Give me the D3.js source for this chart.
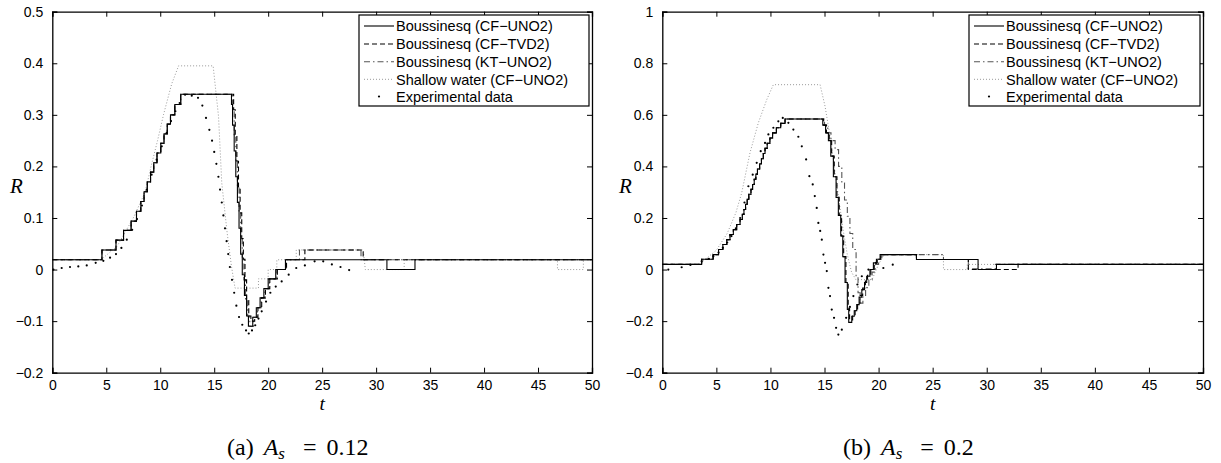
<!DOCTYPE html>
<html><head><meta charset="utf-8">
<script src="https://cdn.jsdelivr.net/npm/d3@7"></script>
<style>body{margin:0;background:#fff} svg{display:block}</style>
</head><body>
<svg id="c" width="1221" height="463"></svg>
<script>
// ---------- DATA ----------
const tTicks = [0,5,10,15,20,25,30,35,40,45,50];
const aRTicks = [-0.2,-0.1,0,0.1,0.2,0.3,0.4,0.5];
const bRTicks = [-0.4,-0.2,0,0.2,0.4,0.6,0.8,1];
const aRLabels = ["−0.2","−0.1","0","0.1","0.2","0.3","0.4","0.5"];
const bRLabels = ["−0.4","−0.2","0","0.2","0.4","0.6","0.8","1"];
const seriesNames = ["Boussinesq (CF−UNO2)","Boussinesq (CF−TVD2)","Boussinesq (KT−UNO2)","Shallow water (CF−UNO2)","Experimental data"];

// panel (a) A_s = 0.12 — stair series [t, R] (value holds until next t)
const aCFUNO2 = [[0,0.019],[4.6,0.038],[5.9,0.057],[6.6,0.076],[7.3,0.094],[7.8,0.113],[8.2,0.132],[8.5,0.151],[8.8,0.170],[9.1,0.189],[9.4,0.207],[9.7,0.226],[10.05,0.245],[10.35,0.263],[10.65,0.282],[10.95,0.300],[11.35,0.320],[11.9,0.340],
 [16.6,0.32],[16.7,0.28],[16.85,0.23],[17.0,0.18],[17.15,0.13],[17.3,0.08],[17.45,0.03],[17.6,-0.01],[17.8,-0.05],[18.0,-0.09],[18.17,-0.11],
 [18.57,-0.0925],[18.9,-0.074],[19.25,-0.055],[19.6,-0.037],[20.0,-0.018],[20.7,0.0],[21.6,0.019],[31.0,0.0],[33.6,0.019],[50,0.019]];
const aCFTVD2 = [[0,0.019],[4.6,0.038],[5.9,0.057],[6.6,0.076],[7.3,0.094],[7.8,0.113],[8.2,0.132],[8.5,0.151],[8.8,0.170],[9.1,0.189],[9.4,0.207],[9.7,0.226],[10.05,0.245],[10.35,0.263],[10.65,0.282],[10.95,0.300],[11.35,0.320],[11.9,0.340],
 [16.8,0.31],[16.95,0.26],[17.1,0.21],[17.25,0.16],[17.4,0.11],[17.55,0.06],[17.7,0.02],[17.85,-0.02],[18.0,-0.06],[18.2,-0.09],[18.4,-0.10],
 [18.75,-0.0925],[19.05,-0.074],[19.4,-0.055],[19.75,-0.037],[20.15,-0.018],[20.85,0.0],[21.7,0.019],[23.4,0.038],[28.8,0.019],[50,0.019]];
const aKTUNO2 = [[0,0.019],[4.6,0.038],[5.9,0.057],[6.6,0.076],[7.3,0.094],[7.8,0.113],[8.2,0.132],[8.5,0.151],[8.8,0.170],[9.1,0.189],[9.4,0.207],[9.7,0.226],[10.05,0.245],[10.35,0.263],[10.65,0.282],[10.95,0.300],[11.35,0.320],[11.9,0.340],
 [16.7,0.31],[16.85,0.26],[17.0,0.21],[17.15,0.16],[17.3,0.11],[17.45,0.06],[17.6,0.02],[17.75,-0.02],[17.9,-0.06],[18.1,-0.09],[18.3,-0.11],
 [18.65,-0.0925],[19.0,-0.074],[19.35,-0.055],[19.7,-0.037],[20.1,-0.018],[20.8,0.0],[21.65,0.019],[22.9,0.038],[28.6,0.019],[50,0.019]];
// shallow water: polyline [t, R]
const aSW = [[0,0.019],[4.5,0.019],[6.0,0.045],[7.5,0.1],[8.6,0.15],[9.15,0.2],[9.75,0.25],[10.3,0.3],[11.06,0.36],[11.7,0.395],[14.9,0.395],[15.4,0.297],[15.7,0.168],[16.2,0.071],[16.6,0.006],[16.93,-0.036],[19.1,-0.036],[19.1,-0.018],[20.0,-0.018],[20.0,0.0],[20.8,0.0],[20.8,0.019],[22.6,0.019],[22.6,0.038],[28.8,0.038],[29.0,0.0],[32.6,0.0],[32.6,0.019],[46.8,0.019],[46.8,0.0],[49.2,0.0],[49.2,0.019],[50,0.019]];
const aExp = [[0.1,0.0],[0.87,0.003],[1.64,0.005],[2.41,0.006],[3.19,0.008],[4.02,0.013],[4.73,0.017],[5.35,0.023],[5.9,0.03],[6.4,0.042],[6.9,0.058],[7.4,0.077],[7.85,0.098],[8.3,0.124],[8.75,0.155],[9.2,0.184],[9.67,0.213],[10.14,0.239],[10.6,0.265],[11.0,0.288],[11.4,0.307],[11.8,0.323],[12.3,0.339],[12.92,0.337],[13.5,0.333],[13.9,0.318],[14.24,0.294],[14.55,0.271],[14.8,0.25],[15.0,0.228],[15.2,0.205],[15.39,0.18],[15.54,0.155],[15.7,0.13],[15.85,0.105],[16.0,0.08],[16.15,0.055],[16.3,0.03],[16.45,0.005],[16.65,-0.02],[16.85,-0.045],[17.05,-0.07],[17.3,-0.092],[17.6,-0.107],[17.95,-0.118],[18.2,-0.124],[18.5,-0.118],[18.8,-0.108],[19.1,-0.095],[19.4,-0.081],[19.8,-0.062],[20.2,-0.045],[20.7,-0.033],[21.25,-0.023],[21.9,-0.01],[22.6,0.003],[23.4,0.008],[24.3,0.016],[25.1,0.016],[25.9,0.01],[26.7,0.005],[27.5,-0.001]];

// panel (b) A_s = 0.2
const bCFUNO2 = [[0,0.02],[3.64,0.04],[4.7,0.058],[5.2,0.078],[5.6,0.097],[5.96,0.116],[6.26,0.136],[6.57,0.155],[6.88,0.175],[7.19,0.194],[7.4,0.214],[7.55,0.233],[7.7,0.253],[7.85,0.272],[8.0,0.292],[8.2,0.311],[8.35,0.33],[8.5,0.35],[8.65,0.37],[8.8,0.39],[9.0,0.41],[9.17,0.43],[9.34,0.45],[9.5,0.47],[9.7,0.49],[9.95,0.51],[10.2,0.53],[10.55,0.55],[10.95,0.567],[11.35,0.584],
 [14.84,0.56],[15.1,0.53],[15.36,0.50],[15.58,0.44],[15.82,0.36],[16.07,0.28],[16.28,0.21],[16.5,0.13],[16.69,0.05],[16.9,-0.05],[17.11,-0.155],[17.24,-0.205],
 [17.52,-0.181],[17.75,-0.16],[17.98,-0.136],[18.2,-0.107],[18.45,-0.078],[18.7,-0.05],[18.9,-0.026],[19.2,0.0],[19.52,0.026],[19.8,0.04],[20.14,0.058],[23.5,0.039],[29.2,0.0],[30.9,0.02],[50,0.02]];
const bCFTVD2 = [[0,0.02],[3.64,0.04],[4.7,0.058],[5.2,0.078],[5.6,0.097],[5.96,0.116],[6.26,0.136],[6.57,0.155],[6.88,0.175],[7.19,0.194],[7.4,0.214],[7.55,0.233],[7.7,0.253],[7.85,0.272],[8.0,0.292],[8.2,0.311],[8.35,0.33],[8.5,0.35],[8.65,0.37],[8.8,0.39],[9.0,0.41],[9.17,0.43],[9.34,0.45],[9.5,0.47],[9.7,0.49],[9.95,0.51],[10.2,0.53],[10.55,0.55],[10.95,0.567],[11.35,0.584],
 [14.92,0.56],[15.18,0.53],[15.44,0.50],[15.66,0.44],[15.9,0.36],[16.15,0.28],[16.36,0.21],[16.58,0.13],[16.77,0.05],[16.98,-0.05],[17.19,-0.15],[17.32,-0.195],
 [17.6,-0.175],[17.83,-0.155],[18.06,-0.13],[18.28,-0.10],[18.53,-0.072],[18.78,-0.045],[18.98,-0.022],[19.28,0.0],[19.6,0.026],[19.88,0.04],[20.2,0.058],[23.5,0.039],[28.3,0.0],[32.9,0.02],[50,0.02]];
const bKTUNO2 = [[0,0.02],[3.64,0.04],[4.7,0.058],[5.2,0.078],[5.6,0.097],[5.96,0.116],[6.26,0.136],[6.57,0.155],[6.88,0.175],[7.19,0.194],[7.4,0.214],[7.55,0.233],[7.7,0.253],[7.85,0.272],[8.0,0.292],[8.2,0.311],[8.35,0.33],[8.5,0.35],[8.65,0.37],[8.8,0.39],[9.0,0.41],[9.17,0.43],[9.34,0.45],[9.5,0.47],[9.7,0.49],[9.95,0.51],[10.2,0.53],[10.55,0.55],[10.95,0.567],[11.35,0.584],
 [15.0,0.56],[15.3,0.53],[15.6,0.50],[15.98,0.465],[16.3,0.40],[16.6,0.336],[16.85,0.27],[17.11,0.207],[17.35,0.14],[17.61,0.078],[17.92,-0.026],[18.1,-0.09],[18.3,-0.13],
 [18.55,-0.10],[18.8,-0.07],[19.1,-0.04],[19.4,-0.01],[19.7,0.02],[20.0,0.04],[20.3,0.058],[26.0,0.039],[28.3,0.003],[30.8,0.02],[50,0.02]];
const bSW = [[0,0.02],[3.4,0.02],[5.0,0.075],[6.0,0.14],[6.8,0.22],[7.34,0.297],[8.11,0.453],[8.88,0.569],[9.66,0.659],[10.27,0.717],[14.59,0.717],[15.05,0.633],[15.5,0.52],[15.9,0.40],[16.3,0.28],[16.7,0.16],[17.1,0.06],[17.5,-0.01],[17.9,-0.039],[19.4,-0.039],[20.0,0.02],[20.5,0.058],[26.0,0.058],[26.0,0.0],[28.2,0.0],[28.2,0.02],[50,0.02]];
const bExp = [[0.56,0.0],[1.79,0.009],[2.6,0.018],[3.64,0.032],[4.3,0.042],[4.72,0.052],[5.2,0.066],[5.6,0.085],[6.0,0.105],[6.4,0.13],[6.8,0.16],[7.2,0.2],[7.6,0.26],[7.96,0.323],[8.36,0.368],[8.73,0.414],[9.1,0.459],[9.5,0.491],[9.81,0.524],[10.27,0.55],[10.73,0.575],[11.14,0.588],[11.66,0.569],[12.12,0.543],[12.58,0.515],[12.9,0.478],[13.3,0.427],[13.6,0.362],[13.91,0.33],[14.1,0.285],[14.28,0.239],[14.43,0.181],[14.6,0.15],[14.75,0.116],[14.9,0.058],[15.05,0.026],[15.21,-0.006],[15.36,-0.071],[15.51,-0.103],[15.67,-0.155],[15.88,-0.187],[16.07,-0.226],[16.28,-0.252],[16.6,-0.233],[17.0,-0.187],[17.35,-0.145],[17.67,-0.103],[18.04,-0.058],[18.45,-0.026],[19.06,0.0],[19.77,0.026],[20.44,0.006],[21.31,0.019]];

// ---------- DRAW ----------
const svg = d3.select("#c");
const styles = [
  {stroke:"#000", dash:null, w:1.1},
  {stroke:"#000", dash:"5,3", w:1.1},
  {stroke:"#555", dash:"6,3,1.5,3", w:1.1},
  {stroke:"#999", dash:"1,2", w:1.0}
];
const panels = [
  {x0:52.3, x1:592, y0:11.7, y1:372.7, dom:[-0.2,0.5], ticks:aRTicks, labels:aRLabels,
   stairs:[aCFUNO2,aCFTVD2,aKTUNO2], sw:aSW, exp:aExp, leg:[359,589], rx:10, cap:{x:227, l:"(a)", v:"0.12"}},
  {x0:662.3, x1:1203, y0:11.7, y1:372.7, dom:[-0.4,1], ticks:bRTicks, labels:bRLabels,
   stairs:[bCFUNO2,bCFTVD2,bKTUNO2], sw:bSW, exp:bExp, leg:[969,1200], rx:619, cap:{x:843, l:"(b)", v:"0.2"}}
];
const sans = "'Liberation Sans', Arial, Helvetica, sans-serif";
const serif = "'Liberation Serif', 'DejaVu Serif', serif";

panels.forEach(p => {
  const x = d3.scaleLinear().domain([0,50]).range([p.x0,p.x1]);
  const y = d3.scaleLinear().domain(p.dom).range([p.y1,p.y0]);
  const g = svg.append("g");
  const clipId = "clip"+Math.round(p.x0);
  svg.append("clipPath").attr("id",clipId).append("rect")
    .attr("x",p.x0).attr("y",p.y0).attr("width",p.x1-p.x0).attr("height",p.y1-p.y0);
  const plot = g.append("g").attr("clip-path",`url(#${clipId})`);

  const stepLine = d3.line().x(d=>x(d[0])).y(d=>y(d[1])).curve(d3.curveStepAfter);
  const linLine = d3.line().x(d=>x(d[0])).y(d=>y(d[1]));
  plot.append("path").attr("d",linLine(p.sw)).attr("fill","none")
    .attr("stroke",styles[3].stroke).attr("stroke-width",styles[3].w).attr("stroke-dasharray",styles[3].dash);
  [2,1,0].forEach(i => {
    plot.append("path").attr("d",stepLine(p.stairs[i])).attr("fill","none")
      .attr("stroke",styles[i].stroke).attr("stroke-width",styles[i].w)
      .attr("stroke-dasharray",styles[i].dash);
  });
  plot.selectAll("circle.e").data(p.exp).enter().append("circle")
    .attr("cx",d=>x(d[0])).attr("cy",d=>y(d[1])).attr("r",1.1).attr("fill","#000");

  // axes (MATLAB box with inward ticks on all sides)
  const tl = 5;
  const axB = d3.axisBottom(x).tickValues(tTicks).tickSize(-tl).tickPadding(tl+2).tickFormat(d3.format("d"));
  const axT = d3.axisTop(x).tickValues(tTicks).tickSize(-tl).tickFormat("");
  const axL = d3.axisLeft(y).tickValues(p.ticks).tickSize(-tl).tickPadding(tl+4).tickFormat((d,i)=>p.labels[i]);
  const axR = d3.axisRight(y).tickValues(p.ticks).tickSize(-tl).tickFormat("");
  const ga = [
    g.append("g").attr("transform",`translate(0,${p.y1})`).call(axB),
    g.append("g").attr("transform",`translate(0,${p.y0})`).call(axT),
    g.append("g").attr("transform",`translate(${p.x0},0)`).call(axL),
    g.append("g").attr("transform",`translate(${p.x1},0)`).call(axR)
  ];
  ga.forEach(a => {
    a.select(".domain").attr("stroke","#000").attr("stroke-width",1.3);
    a.selectAll(".tick line").attr("stroke","#000").attr("stroke-width",1);
    a.selectAll("text").attr("font-family",sans).attr("font-size","14px").attr("fill","#000");
  });
  ga[0].selectAll("text").attr("dy","0.71em");

  // axis labels
  g.append("text").attr("x",p.rx).attr("y",193).attr("font-family",serif).attr("font-style","italic")
    .attr("font-size","21px").text("R");
  g.append("text").attr("x",x(25)).attr("y",410).attr("text-anchor","middle").attr("font-family",serif)
    .attr("font-style","italic").attr("font-size","19.5px").text("t");

  // legend
  const L = p.leg[0], R = p.leg[1];
  const lg = g.append("g");
  lg.append("rect").attr("x",L).attr("y",15).attr("width",R-L).attr("height",91)
    .attr("fill","#fff").attr("stroke","#000").attr("stroke-width",1.2);
  const rows = [26,44,61.7,79.3,96.5];
  seriesNames.forEach((name,i) => {
    const cy = rows[i];
    if (i < 4) {
      lg.append("line").attr("x1",L+5).attr("x2",L+35).attr("y1",cy).attr("y2",cy)
        .attr("stroke",styles[i].stroke).attr("stroke-width",styles[i].w).attr("stroke-dasharray",styles[i].dash);
    } else {
      lg.append("circle").attr("cx",L+20).attr("cy",cy).attr("r",1.1).attr("fill","#000");
    }
    lg.append("text").attr("x",L+37).attr("y",cy+5.2).attr("font-family",sans).attr("font-size","14.5px").text(name);
  });

  // caption
  const cap = svg.append("text").attr("x",p.cap.x).attr("y",455).attr("font-family",serif).attr("font-size","24px");
  cap.append("tspan").text(p.cap.l);
  cap.append("tspan").attr("dx",10).attr("font-style","italic").text("A");
  cap.append("tspan").attr("dy",4).attr("font-size","17px").attr("font-style","italic").text("s");
  cap.append("tspan").attr("dy",-4).attr("dx",18).text("=");
  cap.append("tspan").attr("dx",10).text(p.cap.v);
});
</script>
</body></html>
